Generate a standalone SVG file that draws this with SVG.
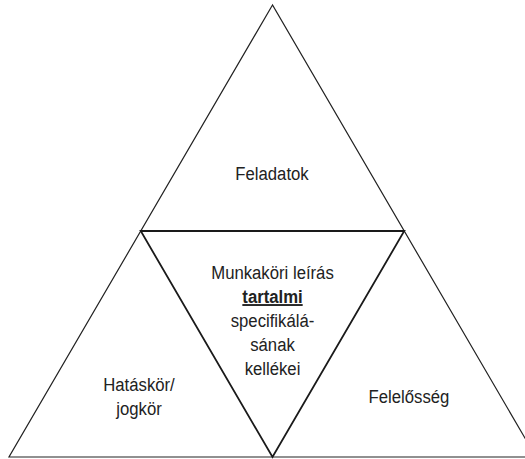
<svg xmlns="http://www.w3.org/2000/svg" width="525" height="459" viewBox="0 0 525 459">
<style>
.outer{fill:none;stroke:#222;stroke-width:1.2;stroke-linejoin:miter}
.inner{fill:none;stroke:#1a1a1a;stroke-width:1.8}
text{font-family:"Liberation Sans",Arial,sans-serif;font-size:19px;fill:#222;text-anchor:middle}
.b{font-weight:bold;text-decoration:underline}
</style>
<rect width="525" height="459" fill="#fff"/>
<g id="connectors">
<path class="outer" d="M272.5,5 L9,457 L536,457 Z"/>
<path class="inner" d="M140.75,231 L404.25,231 L272.5,457 Z"/>
</g>
<g id="feladatok"><text transform="translate(272,180) scale(0.88,1)">Feladatok</text></g>
<g id="hataskor"><text transform="translate(139,391) scale(0.88,1)">Hatáskör/</text><text transform="translate(139,415) scale(0.88,1)">jogkör</text></g>
<g id="felelosseg"><text transform="translate(409,403) scale(0.88,1)">Felelősség</text></g>
<g id="center">
<text transform="translate(272.5,279) scale(0.88,1)">Munkaköri leírás</text>
<text transform="translate(272.5,303) scale(0.88,1)" class="b">tartalmi</text>
<text transform="translate(272.5,327) scale(0.88,1)">specifikálá-</text>
<text transform="translate(272.5,351) scale(0.88,1)">sának</text>
<text transform="translate(272.5,375) scale(0.88,1)">kellékei</text>
</g>
</svg>
